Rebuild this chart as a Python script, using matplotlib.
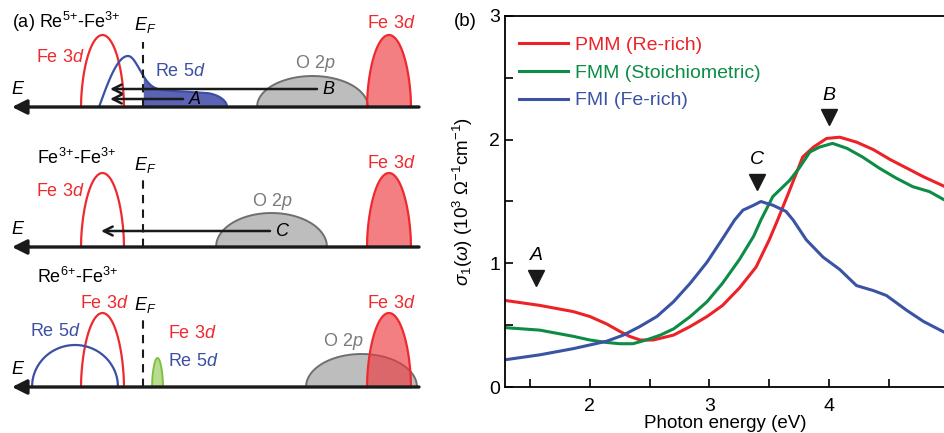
import numpy as np
import matplotlib.pyplot as plt

plt.rcParams['font.family'] = ['Liberation Sans', 'DejaVu Sans']
plt.rcParams['mathtext.fontset'] = 'custom'
plt.rcParams['mathtext.rm'] = 'Liberation Sans'
plt.rcParams['mathtext.it'] = 'Liberation Sans:italic'
plt.rcParams['mathtext.bf'] = 'Liberation Sans:bold'

# ---------------- panel (b) data: optical conductivity ----------------
pmm_e = [1.29, 1.58, 1.86, 2.00, 2.14, 2.25, 2.33, 2.42, 2.53, 2.70, 2.84, 2.98, 3.11, 3.25,
         3.39, 3.50, 3.57, 3.67, 3.78, 3.87, 3.98, 4.09, 4.23, 4.37, 4.51, 4.65, 4.79, 4.97]
pmm_s = [0.70, 0.66, 0.61, 0.57, 0.51, 0.45, 0.41, 0.38, 0.38, 0.42, 0.49, 0.57, 0.66, 0.80,
         0.97, 1.19, 1.35, 1.59, 1.86, 1.94, 2.01, 2.02, 1.98, 1.92, 1.84, 1.77, 1.70, 1.62]

fmm_e = [1.29, 1.58, 1.86, 2.00, 2.14, 2.25, 2.36, 2.47, 2.59, 2.70, 2.84, 2.98, 3.11, 3.25,
         3.37, 3.43, 3.53, 3.67, 3.75, 3.84, 3.92, 4.03, 4.15, 4.28, 4.42, 4.56, 4.70, 4.84, 4.97]
fmm_s = [0.48, 0.46, 0.41, 0.38, 0.36, 0.35, 0.35, 0.38, 0.42, 0.47, 0.57, 0.69, 0.84, 1.03,
         1.22, 1.35, 1.54, 1.67, 1.77, 1.90, 1.94, 1.97, 1.93, 1.86, 1.77, 1.69, 1.62, 1.58, 1.51]

fmi_e = [1.29, 1.58, 1.86, 2.00, 2.14, 2.28, 2.42, 2.56, 2.70, 2.84, 2.98, 3.11, 3.21, 3.28,
         3.37, 3.43, 3.53, 3.64, 3.70, 3.81, 3.95, 4.09, 4.23, 4.37, 4.48, 4.65, 4.79, 4.97]
fmi_s = [0.22, 0.26, 0.31, 0.34, 0.37, 0.42, 0.49, 0.57, 0.69, 0.84, 1.01, 1.20, 1.35, 1.43,
         1.47, 1.50, 1.47, 1.42, 1.35, 1.19, 1.05, 0.95, 0.82, 0.78, 0.74, 0.62, 0.53, 0.44]

series_labels = ['PMM (Re-rich)', 'FMM (Stoichiometric)', 'FMI (Fe-rich)']
series_colors = ['#ec2227', '#0c8c45', '#3a53a4']

peak_names = ['A', 'C', 'B']
peak_e = [1.55, 3.40, 4.00]
peak_s = [0.88, 1.66, 2.18]

# ---------------- panel (a) data: schematic density of states ----------------
# positions along the energy line (pixels of the schematic), heights above the line
row_titles = ['(a) Re$^{5{+}}$-Fe$^{3{+}}$', 'Fe$^{3{+}}$-Fe$^{3{+}}$', 'Re$^{6{+}}$-Fe$^{3{+}}$']
row_title_x = [12, 37, 37]
row_title_h = [85, 89, 110]
ef_x = 143
ef_top = [65, 67, 67]
fe_low_c, fe_low_hw = 102.5, 21.5
fe_low_h = [72, 74, 74]
fe_up_c, fe_up_hw = 389, 22
fe_up_h = [72, 74, 74]
o2p_c = [312.5, 271.5, 361.5]
o2p_hw = 55.5
o2p_h = [31, 34, 33]
re5d_row3 = [75, 43, 42]        # centre, half width, height
green_row3 = [157.5, 5.5, 29]
re5d_row1 = [128, 16, 51, 17]   # peak position, fall width, peak height, tail height
re5d_row1_span = [99, 227]
arrow_rows = [0, 0, 1]
arrow_names = ['B', 'A', 'C']
arrow_from = [317, 183, 270]
arrow_to = [110, 110, 101]
arrow_h = [18, 8, 16]

RED = '#ee2a2f'
BLUE = '#3b50a5'
GRAY = '#7a7a7a'


def dome(c, hw, h, p=0.55, n=200):
    x = np.linspace(c - hw, c + hw, n)
    y = h * np.clip(1 - ((x - c) / hw) ** 2, 0, None) ** p
    return x, y


fig = plt.figure(figsize=(9.45, 4.33), dpi=100)

rows = []
for i in range(3):
    top = 140 * i
    ax = fig.add_axes([0, (433 - top - 140) / 433, 425 / 945, 140 / 433])
    ax.set_xlim(0, 425)
    ax.set_ylim(-33, 107)
    ax.axis('off')
    rows.append(ax)

    # energy axis
    ax.annotate('', xy=(12, 0), xytext=(419, 0),
                arrowprops=dict(arrowstyle='-|>', color='#1a1a1a', lw=2.4,
                                mutation_scale=22, shrinkA=0, shrinkB=0), zorder=6)
    ax.text(18, 17, '$E$', fontsize=13, ha='center', va='center')

    # lower Fe 3d (unoccupied, outline)
    x, y = dome(fe_low_c, fe_low_hw, fe_low_h[i])
    ax.plot(x, y, color=RED, lw=1.6, zorder=3)

    # upper Fe 3d (occupied, filled)
    x, y = dome(fe_up_c, fe_up_hw, fe_up_h[i])
    ax.fill_between(x, 0, y, color='#ee3a40', alpha=0.65, lw=0, zorder=3)
    ax.plot(x, y, color=RED, lw=1.6, zorder=4)

    # O 2p
    x, y = dome(o2p_c[i], o2p_hw, o2p_h[i], p=0.5)
    ax.fill_between(x, 0, y, color='#bdbdbd', lw=0, zorder=2)
    ax.plot(x, y, color='#6e6e6e', lw=1.4, zorder=2)

    # Fermi level
    ax.plot([ef_x, ef_x], [0, ef_top[i]], color='#1a1a1a', lw=1.5, ls=(0, (4, 3)), zorder=5)
    ax.text(ef_x + 2, 82, '$E_F$', fontsize=13, ha='center', va='center')

    ax.text(row_title_x[i], row_title_h[i], row_titles[i], fontsize=13,
            ha='left', va='center')
    ax.text(fe_up_c + 2, 84, 'Fe 3$d$', color=RED, fontsize=13, ha='center', va='center')

# row 1: metallic Re 5d band crossing E_F
ax = rows[0]
c, w, hp, ht = re5d_row1
x = np.linspace(re5d_row1_span[0], re5d_row1_span[1], 400)
rise = hp * np.sin(np.pi / 2 * np.clip((x - x[0]) / (c - x[0]), 0, 1))
tail = ht - 0.06 * (x - 157)
end = np.where(x > 205, np.sqrt(np.clip(1 - ((x - 205) / 22) ** 2, 0, None)), 1)
fall = (tail + (hp - tail) * np.exp(-((x - c) / w) ** 2)) * end
y = np.where(x < c, rise, fall)
occ = x >= ef_x
ax.fill_between(x[occ], 0, y[occ], color='#5a63b4', lw=0, zorder=3)
ax.plot(x, y, color=BLUE, lw=1.6, zorder=4)
ax.text(85, 50, 'Fe 3$d$', color=RED, fontsize=13, ha='right', va='center')
ax.text(155, 36, 'Re 5$d$', color=BLUE, fontsize=13, ha='left', va='center')
ax.text(315, 44, 'O 2$p$', color=GRAY, fontsize=13, ha='center', va='center')

# row 2
ax = rows[1]
ax.text(85, 55, 'Fe 3$d$', color=RED, fontsize=13, ha='right', va='center')
ax.text(272, 45, 'O 2$p$', color=GRAY, fontsize=13, ha='center', va='center')

# row 3: insulating, Re 5d / Fe 3d split bands
ax = rows[2]
x, y = dome(*re5d_row3, p=0.5)
ax.plot(x, y, color=BLUE, lw=1.6, zorder=3)
x, y = dome(*green_row3, p=0.6)
ax.fill_between(x, 0, y, color='#b9dc8f', lw=0, zorder=3)
ax.plot(x, y, color='#7cc142', lw=1.4, zorder=3)
ax.text(30, 55, 'Re 5$d$', color=BLUE, fontsize=13, ha='left', va='center')
ax.text(80, 84, 'Fe 3$d$', color=RED, fontsize=13, ha='left', va='center')
ax.text(168, 53, 'Fe 3$d$', color=RED, fontsize=13, ha='left', va='center')
ax.text(168, 26, 'Re 5$d$', color=BLUE, fontsize=13, ha='left', va='center')
ax.text(323, 45, 'O 2$p$', color=GRAY, fontsize=13, ha='left', va='center')

# transitions A, B, C
for r, name, x0, x1, h in zip(arrow_rows, arrow_names, arrow_from, arrow_to, arrow_h):
    rows[r].annotate('', xy=(x1, h), xytext=(x0, h),
                     arrowprops=dict(arrowstyle='->', color='#1a1a1a', lw=1.8,
                                     mutation_scale=16, shrinkA=0, shrinkB=0), zorder=7)
    rows[r].text(x0 + 5, h, '$' + name + '$', fontsize=13, ha='left', va='center', zorder=7)

# ---------------- panel (b) ----------------
axb = fig.add_axes([505 / 945, (433 - 387) / 433, 440 / 945, (387 - 16) / 433])
for e, s, lab, col in zip([pmm_e, fmm_e, fmi_e], [pmm_s, fmm_s, fmi_s],
                          series_labels, series_colors):
    axb.plot(e, s, color=col, lw=2.2, label=lab)

axb.plot(peak_e, peak_s, 'v', color='#1a1a1a', ms=11, ls='none')
for name, e, s in zip(peak_names, peak_e, peak_s):
    axb.text(e, s + 0.18, '$' + name + '$', fontsize=14, ha='center', va='center')

axb.set_xlim(1.29, 4.97)
axb.set_ylim(0, 3)
axb.set_xticks([2, 3, 4])
axb.set_xticks([1.5, 2.5, 3.5, 4.5], minor=True)
axb.set_yticks([0, 1, 2, 3])
axb.set_yticks([0.5, 1.5, 2.5], minor=True)
axb.tick_params(which='both', direction='in', length=6, width=1.2, labelsize=14)
axb.tick_params(axis='x', pad=8)
axb.spines['right'].set_visible(False)
for sp in ['left', 'bottom', 'top']:
    axb.spines[sp].set_linewidth(1.3)

axb.set_xlabel('Photon energy (eV)', fontsize=13.5, labelpad=0)
axb.set_ylabel(r'$\sigma_1(\omega)$ (10$^3$ $\Omega^{-1}$cm$^{-1}$)', fontsize=13.5, labelpad=10)
axb.text(-0.09, 0.985, '(b)', transform=axb.transAxes, fontsize=13.5, ha='center', va='center')

leg = axb.legend(loc='upper left', bbox_to_anchor=(0.032, 0.946), frameon=False,
                 fontsize=14, handlelength=2.5, handletextpad=0.4, labelspacing=0.53,
                 borderaxespad=0, borderpad=0, labelcolor='linecolor')

fig.savefig('out.png', dpi=100)
